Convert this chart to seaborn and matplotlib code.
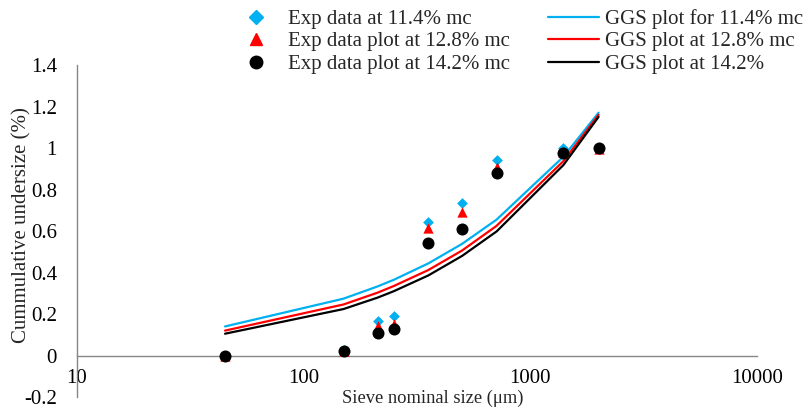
import numpy as np
import pandas as pd
import matplotlib
matplotlib.use("Agg")
import matplotlib.pyplot as plt
import seaborn as sns
from matplotlib.lines import Line2D
from matplotlib.ticker import FixedLocator, FixedFormatter, NullLocator

# sieve sizes (um)
sieve = [45, 150, 212, 250, 355, 500, 710, 1400, 2000]

# experimental cumulative undersize
exp_114 = [0.0, 0.025, 0.168, 0.19, 0.645, 0.735, 0.94, 1.0, 1.0]
exp_128 = [0.0, 0.02, 0.14, 0.15, 0.615, 0.69, 0.91, 0.98, 0.995]
exp_142 = [0.0, 0.02, 0.11, 0.13, 0.543, 0.61, 0.88, 0.975, 1.0]

# GGS model curves
ggs_114 = [0.14, 0.274, 0.333, 0.365, 0.444, 0.538, 0.655, 0.958, 1.17]
ggs_128 = [0.12, 0.246, 0.303, 0.335, 0.412, 0.506, 0.625, 0.937, 1.16]
ggs_142 = [0.105, 0.224, 0.279, 0.310, 0.386, 0.480, 0.598, 0.918, 1.15]

exp_labels = ["Exp data at 11.4% mc", "Exp data plot at 12.8% mc", "Exp data plot at 14.2% mc"]
ggs_labels = ["GGS plot for 11.4% mc", "GGS plot at 12.8% mc", "GGS plot at 14.2%"]

x_ticks = [10, 100, 1000, 10000]
x_tick_labels = ["10", "100", "1000", "10000"]
y_ticks = [-0.2, 0, 0.2, 0.4, 0.6, 0.8, 1, 1.2, 1.4]
y_tick_labels = ["-0.2", "0", "0.2", "0.4", "0.6", "0.8", "1", "1.2", "1.4"]

BLUE = "#00B0F0"
RED = "#FF0000"
BLACK = "#000000"
GREY = "#868686"

sns.set_style("white")
plt.rcParams["font.family"] = ["Liberation Serif", "DejaVu Serif"]

df = pd.DataFrame({"size": sieve,
                   "e114": exp_114, "e128": exp_128, "e142": exp_142,
                   "g114": ggs_114, "g128": ggs_128, "g142": ggs_142})

fig = plt.figure(figsize=(8.08, 4.11), dpi=100)
ax = fig.add_axes([77 / 808, 1 - 397 / 411, 680 / 808, 332 / 411])

lw = 1.6
sns.lineplot(data=df, x="size", y="g114", color=BLUE, lw=lw, ax=ax, zorder=2)
sns.lineplot(data=df, x="size", y="g128", color=RED, lw=lw, ax=ax, zorder=2)
sns.lineplot(data=df, x="size", y="g142", color=BLACK, lw=lw, ax=ax, zorder=2)

sns.scatterplot(data=df, x="size", y="e114", marker="D", s=30, color=BLUE,
                edgecolor=BLUE, linewidth=0, ax=ax, zorder=3)
sns.scatterplot(data=df, x="size", y="e128", marker="^", s=55, color=RED,
                edgecolor=RED, linewidth=0, ax=ax, zorder=4)
sns.scatterplot(data=df, x="size", y="e142", marker="o", s=75, color=BLACK,
                edgecolor=BLACK, linewidth=0, ax=ax, zorder=5)

ax.set_xscale("log")
ax.set_xlim(10, 10000)
ax.set_ylim(-0.2, 1.4)

ax.xaxis.set_major_locator(FixedLocator(x_ticks))
ax.xaxis.set_major_formatter(FixedFormatter(x_tick_labels))
ax.xaxis.set_minor_locator(NullLocator())
ax.yaxis.set_major_locator(FixedLocator(y_ticks))
ax.yaxis.set_major_formatter(FixedFormatter(y_tick_labels))

for s in ["top", "right"]:
    ax.spines[s].set_visible(False)
ax.spines["bottom"].set_position(("data", 0))
for s in ["left", "bottom"]:
    ax.spines[s].set_color(GREY)
    ax.spines[s].set_linewidth(1.0)

ax.tick_params(axis="both", which="major", direction="out", length=5,
               width=1.0, color=GREY, labelsize=15, labelcolor="black")
ax.tick_params(axis="y", pad=9.4)
ax.tick_params(axis="x", pad=5)

ax.set_xlabel("Sieve nominal size (\u03bcm)", fontsize=13.3)
ax.xaxis.set_label_coords((433 - 77) / 680, 0.022)
ax.set_ylabel("Cummulative undersize (%)", fontsize=15)
ax.yaxis.set_label_coords((31 - 77) / 680, 0.518)

handles = [
    Line2D([], [], ls="none", marker="D", ms=7, color=BLUE),
    Line2D([], [], ls="none", marker="^", ms=9, color=RED),
    Line2D([], [], ls="none", marker="o", ms=9, color=BLACK),
    Line2D([], [], color=BLUE, lw=lw),
    Line2D([], [], color=RED, lw=lw),
    Line2D([], [], color=BLACK, lw=lw),
]
fig.legend(handles, exp_labels + ggs_labels, ncol=2, frameon=False,
           loc="upper left", bbox_to_anchor=(231 / 808, 1 - 9 / 411),
           fontsize=15, handlelength=2.43, handletextpad=0.29,
           columnspacing=1.85, labelspacing=0.14, borderpad=0,
           borderaxespad=0)

fig.savefig("out.png", dpi=100)
